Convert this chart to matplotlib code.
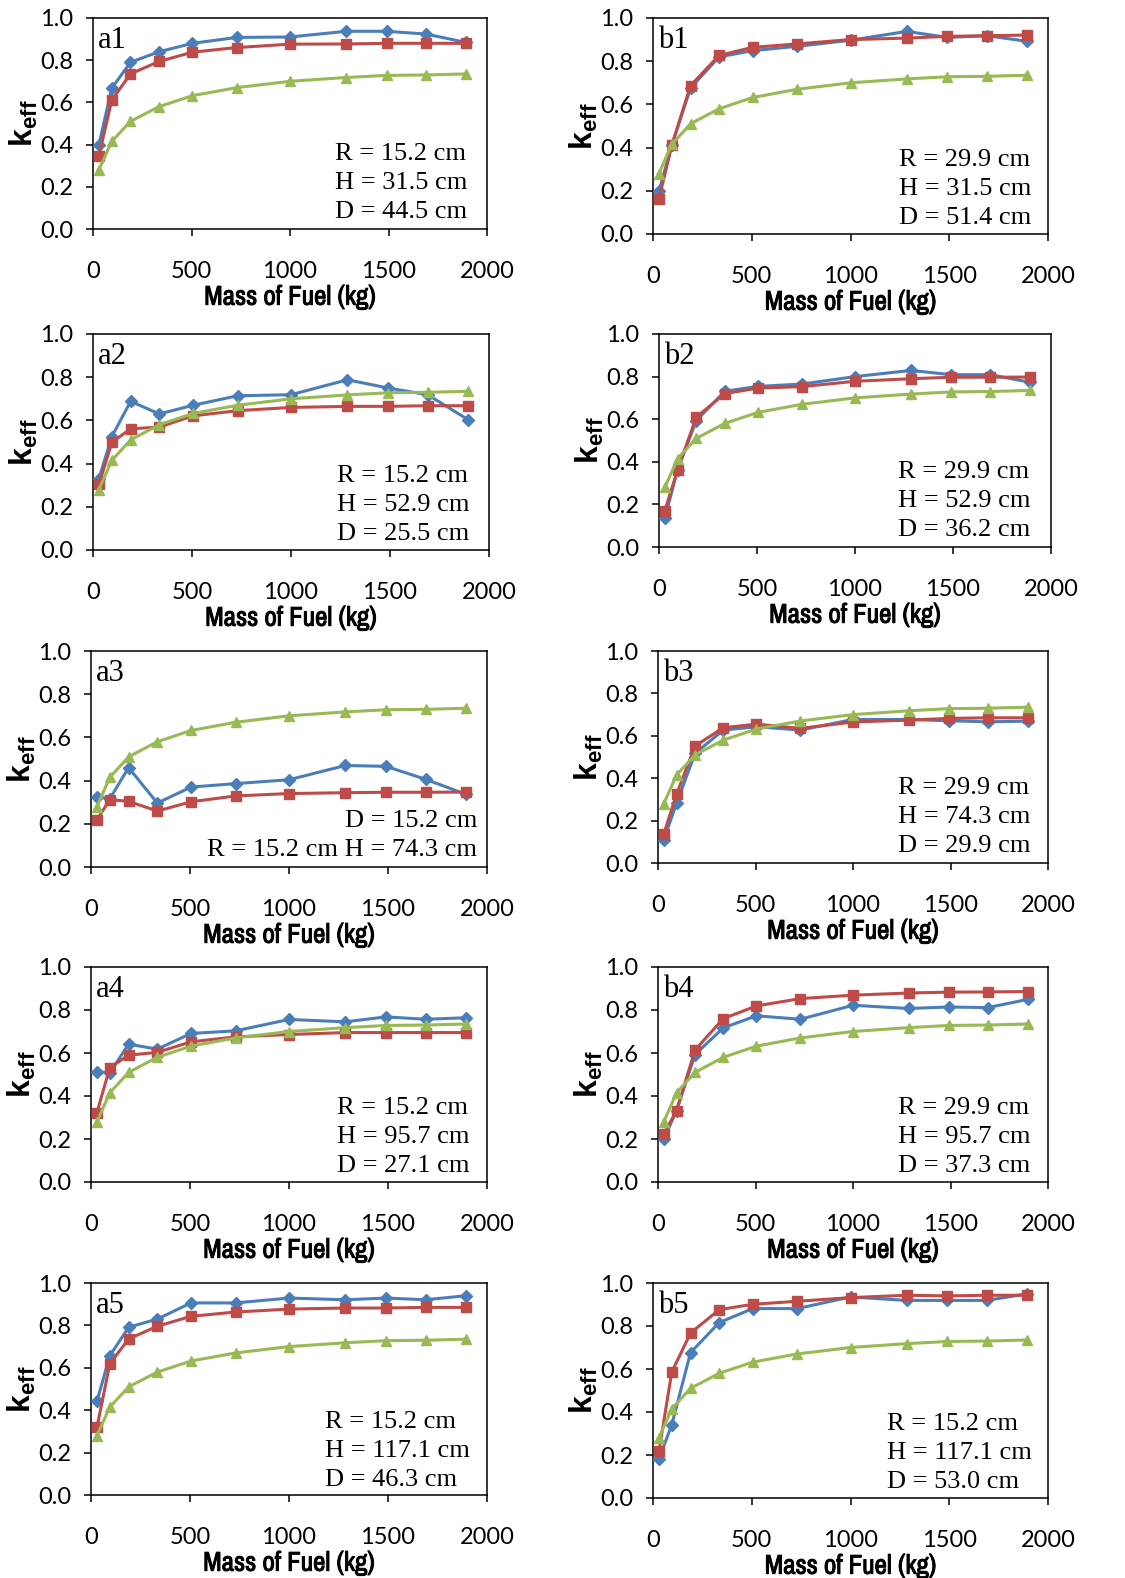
import matplotlib
matplotlib.use('Agg')
import matplotlib.pyplot as plt
import matplotlib as mpl
import matplotlib.patheffects as pe
from matplotlib import font_manager

# narrow sans for the x titles (thickened with a stroke), else Roboto bold
names = sorted({f.name for f in font_manager.fontManager.ttflist})
narrow = None
for n in names:
    if 'Narrow' in n or 'Condensed' in n:
        narrow = n
        break

mpl.rcParams.update({'font.family': 'Lato',
                     'mathtext.fontset': 'custom',
                     'mathtext.rm': 'Liberation Sans',
                     'mathtext.bf': 'Liberation Sans:bold',
                     'axes.linewidth': 1.1})

# mass of fuel (kg)
mass = [30, 95, 190, 335, 505, 730, 1000, 1285, 1490, 1690, 1895]

# green reference curve, the same in every panel
ref = [0.28, 0.415, 0.51, 0.58, 0.632, 0.67, 0.70, 0.718, 0.728, 0.730, 0.735]

blue_a1 = [0.398, 0.667, 0.79, 0.84, 0.88, 0.908, 0.91, 0.937, 0.937, 0.924, 0.884]
red_a1 = [0.347, 0.61, 0.735, 0.794, 0.838, 0.86, 0.876, 0.877, 0.88, 0.88, 0.88]
blue_b1 = [0.198, 0.41, 0.676, 0.82, 0.849, 0.869, 0.897, 0.938, 0.91, 0.918, 0.892]
red_b1 = [0.162, 0.41, 0.687, 0.827, 0.864, 0.88, 0.90, 0.907, 0.915, 0.918, 0.921]
blue_a2 = [0.33, 0.525, 0.688, 0.63, 0.67, 0.714, 0.719, 0.788, 0.75, 0.719, 0.603]
red_a2 = [0.304, 0.498, 0.561, 0.569, 0.621, 0.645, 0.66, 0.665, 0.665, 0.668, 0.668]
blue_b2 = [0.136, 0.363, 0.593, 0.731, 0.754, 0.765, 0.80, 0.829, 0.809, 0.809, 0.773]
red_b2 = [0.171, 0.363, 0.609, 0.72, 0.746, 0.753, 0.778, 0.79, 0.797, 0.797, 0.798]
blue_a3 = [0.324, 0.316, 0.46, 0.296, 0.37, 0.386, 0.404, 0.47, 0.466, 0.406, 0.336]
red_a3 = [0.219, 0.312, 0.304, 0.259, 0.302, 0.329, 0.34, 0.344, 0.346, 0.346, 0.347]
blue_b3 = [0.11, 0.282, 0.517, 0.627, 0.643, 0.627, 0.677, 0.677, 0.671, 0.666, 0.669]
red_b3 = [0.138, 0.324, 0.552, 0.638, 0.655, 0.635, 0.665, 0.674, 0.682, 0.685, 0.685]
blue_a4 = [0.513, 0.508, 0.641, 0.618, 0.691, 0.703, 0.756, 0.745, 0.768, 0.757, 0.764]
red_a4 = [0.323, 0.532, 0.59, 0.603, 0.652, 0.675, 0.686, 0.695, 0.695, 0.695, 0.695]
blue_b4 = [0.20, 0.332, 0.593, 0.717, 0.773, 0.757, 0.822, 0.807, 0.814, 0.811, 0.849]
red_b4 = [0.223, 0.332, 0.614, 0.76, 0.819, 0.853, 0.869, 0.879, 0.883, 0.884, 0.886]
blue_a5 = [0.442, 0.657, 0.791, 0.83, 0.906, 0.906, 0.929, 0.921, 0.929, 0.921, 0.94]
red_a5 = [0.319, 0.619, 0.736, 0.796, 0.843, 0.863, 0.877, 0.882, 0.882, 0.885, 0.885]
blue_b5 = [0.18, 0.341, 0.676, 0.816, 0.881, 0.881, 0.935, 0.919, 0.919, 0.919, 0.95]
red_b5 = [0.217, 0.586, 0.767, 0.876, 0.901, 0.915, 0.932, 0.943, 0.94, 0.943, 0.943]

labels = ['a1', 'b1', 'a2', 'b2', 'a3', 'b3', 'a4', 'b4', 'a5', 'b5']
blues = [blue_a1, blue_b1, blue_a2, blue_b2, blue_a3, blue_b3, blue_a4, blue_b4, blue_a5, blue_b5]
reds = [red_a1, red_b1, red_a2, red_b2, red_a3, red_b3, red_a4, red_b4, red_a5, red_b5]
notes = ['R = 15.2 cm\nH = 31.5 cm\nD = 44.5 cm',
         'R = 29.9 cm\nH = 31.5 cm\nD = 51.4 cm',
         'R = 15.2 cm\nH = 52.9 cm\nD = 25.5 cm',
         'R = 29.9 cm\nH = 52.9 cm\nD = 36.2 cm',
         'D = 15.2 cm\nR = 15.2 cm H = 74.3 cm',
         'R = 29.9 cm\nH = 74.3 cm\nD = 29.9 cm',
         'R = 15.2 cm\nH = 95.7 cm\nD = 27.1 cm',
         'R = 29.9 cm\nH = 95.7 cm\nD = 37.3 cm',
         'R = 15.2 cm\nH = 117.1 cm\nD = 46.3 cm',
         'R = 15.2 cm\nH = 117.1 cm\nD = 53.0 cm']

W, H = 1125, 1578
# axes boxes in pixels: left, right, top, bottom
boxes = [(93, 487, 18, 229), (653, 1048, 18, 234),
         (93, 489, 334, 550), (659, 1051, 334, 547),
         (91, 487, 651, 867), (658, 1048, 651, 863),
         (91, 487, 967, 1182), (658, 1048, 967, 1182),
         (91, 487, 1283, 1495), (653, 1048, 1283, 1498)]
# annotation anchor (axes coords) and alignment
note_pos = [(0.614, 0.052, 'left'), (0.623, 0.046, 'left'),
            (0.616, 0.046, 'left'), (0.61, 0.052, 'left'),
            (0.975, 0.05, 'right'), (0.615, 0.052, 'left'),
            (0.621, 0.047, 'left'), (0.615, 0.047, 'left'),
            (0.591, 0.042, 'left'), (0.592, 0.047, 'left')]

fig = plt.figure(figsize=(W / 100, H / 100), dpi=100)

for i in range(10):
    l, r, t, b = boxes[i]
    ax = fig.add_axes([l / W, 1 - b / H, (r - l) / W, (b - t) / H])
    ax.plot(mass, blues[i], color='#4A7EBB', lw=2.2, marker='D', ms=6.5, zorder=3)
    ax.plot(mass, reds[i], color='#BE4B48', lw=2.2, marker='s', ms=6.5, zorder=4)
    ax.plot(mass, ref, color='#98B954', lw=2.2, marker='^', ms=7, zorder=5)
    ax.set_xlim(0, 2000)
    ax.set_ylim(0, 1.0)
    ax.set_xticks([0, 500, 1000, 1500, 2000])
    ax.set_yticks([0, 0.2, 0.4, 0.6, 0.8, 1.0])
    ax.set_yticklabels(['0.0', '0.2', '0.4', '0.6', '0.8', '1.0'])
    ax.tick_params(axis='both', direction='out', length=5, width=1.1, labelsize=17)
    ax.tick_params(axis='x', pad=18)
    ax.tick_params(axis='y', pad=9)
    if narrow:
        xl = ax.set_xlabel('Mass of Fuel (kg)', fontsize=19.5, family=narrow, labelpad=2)
        xl.set_path_effects([pe.withStroke(linewidth=0.7, foreground='black')])
    else:
        ax.set_xlabel('Mass of Fuel (kg)', fontsize=15, family='Roboto', fontweight='bold', labelpad=2)
    ax.set_ylabel(r'$\mathbf{k}_{\mathbf{eff}}$', fontsize=23)
    ax.yaxis.set_label_coords(-0.135, 0.5)
    ax.text(0.012, 1 - 30 / (b - t), labels[i], transform=ax.transAxes, fontsize=22,
            family='Liberation Serif', va='baseline')
    x, y, ha = note_pos[i]
    ax.text(x, y, notes[i], transform=ax.transAxes, fontsize=19, family='Liberation Serif',
            ha=ha, va='baseline', multialignment=ha, linespacing=1.4)

plt.savefig('out.png', dpi=100)
